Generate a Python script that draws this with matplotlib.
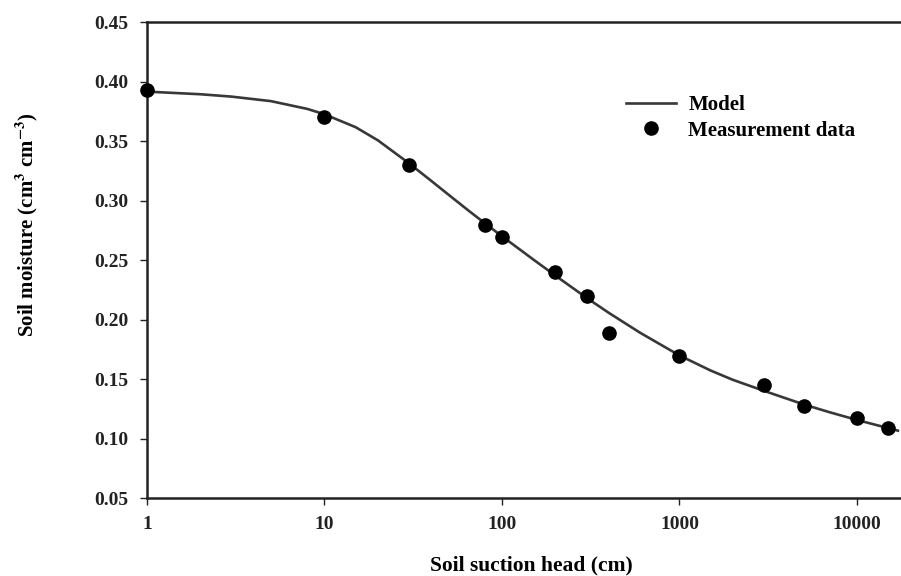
import matplotlib
matplotlib.use("Agg")
import matplotlib.pyplot as plt

# Measurement data
suction = [1, 10, 30, 80, 100, 200, 300, 400, 1000, 3000, 5000, 10000, 15000]
moisture = [0.393, 0.370, 0.330, 0.279, 0.269, 0.240, 0.220, 0.189, 0.169, 0.145, 0.127, 0.117, 0.109]

# Model curve
model_h = [1, 2, 3, 5, 8, 10, 15, 20, 30, 40, 50, 65, 80, 100, 150, 200, 300, 400, 600,
           1000, 1500, 2000, 3000, 5000, 7000, 10000, 17000]
model_theta = [0.3915, 0.3893, 0.3873, 0.3835, 0.3770, 0.3725, 0.3616, 0.3506, 0.3312,
               0.3165, 0.3049, 0.2914, 0.2810, 0.2700, 0.2505, 0.2369, 0.2182, 0.2056,
               0.1889, 0.1698, 0.1571, 0.1493, 0.1400, 0.1287, 0.1221, 0.1156, 0.1066]

xticks = [1, 10, 100, 1000, 10000]
xticklabels = ["1", "10", "100", "1000", "10000"]
yticks = [0.05, 0.10, 0.15, 0.20, 0.25, 0.30, 0.35, 0.40, 0.45]

plt.rcParams['font.family'] = ['Liberation Serif', 'DejaVu Serif']
plt.rcParams['font.weight'] = 'bold'
plt.rcParams['mathtext.fontset'] = 'stix'

fig = plt.figure(figsize=(9.01, 5.76), dpi=100)
ax = fig.add_axes([0.163, 0.1354, 0.837, 0.8264])

ax.plot(model_h, model_theta, color='#383838', lw=1.9, label='Model', zorder=2,
        solid_joinstyle='round')
ax.plot(suction, moisture, 'o', color='black', ms=9.5, label='Measurement data',
        clip_on=False, zorder=3)

ax.set_xscale('log')
ax.set_xlim(1, 17700)
ax.set_ylim(0.05, 0.45)
ax.set_xticks(xticks)
ax.set_xticklabels(xticklabels)
ax.xaxis.set_minor_locator(matplotlib.ticker.NullLocator())
ax.set_yticks(yticks)
ax.set_yticklabels([f"{v:.2f}" for v in yticks])

for s in ['left', 'bottom', 'top']:
    ax.spines[s].set_linewidth(1.8)
    ax.spines[s].set_color('#222222')
ax.spines['right'].set_visible(False)

ax.tick_params(axis='both', direction='out', length=5, width=1, labelsize=14,
               colors='#222222', pad=8)
for lab in ax.get_xticklabels() + ax.get_yticklabels():
    lab.set_fontweight('bold')
ax.tick_params(axis='x', pad=8)

ax.set_xlabel('Soil suction head (cm)', fontsize=15.5, fontweight='bold')
ax.xaxis.set_label_coords(0.51, -0.12)
ax.set_ylabel(r'Soil moisture (cm$^\mathbf{3}$ cm$^\mathbf{-3}$)', fontsize=15,
              fontweight='bold')
ax.yaxis.set_label_coords(-0.142, 0.575)

leg = ax.legend(loc='upper left', bbox_to_anchor=(0.61, 0.885), frameon=False,
                fontsize=15, handlelength=2.4, handletextpad=0.6, labelspacing=0.25)
for t in leg.get_texts():
    t.set_fontweight('bold')

fig.savefig('out.png', dpi=100)
